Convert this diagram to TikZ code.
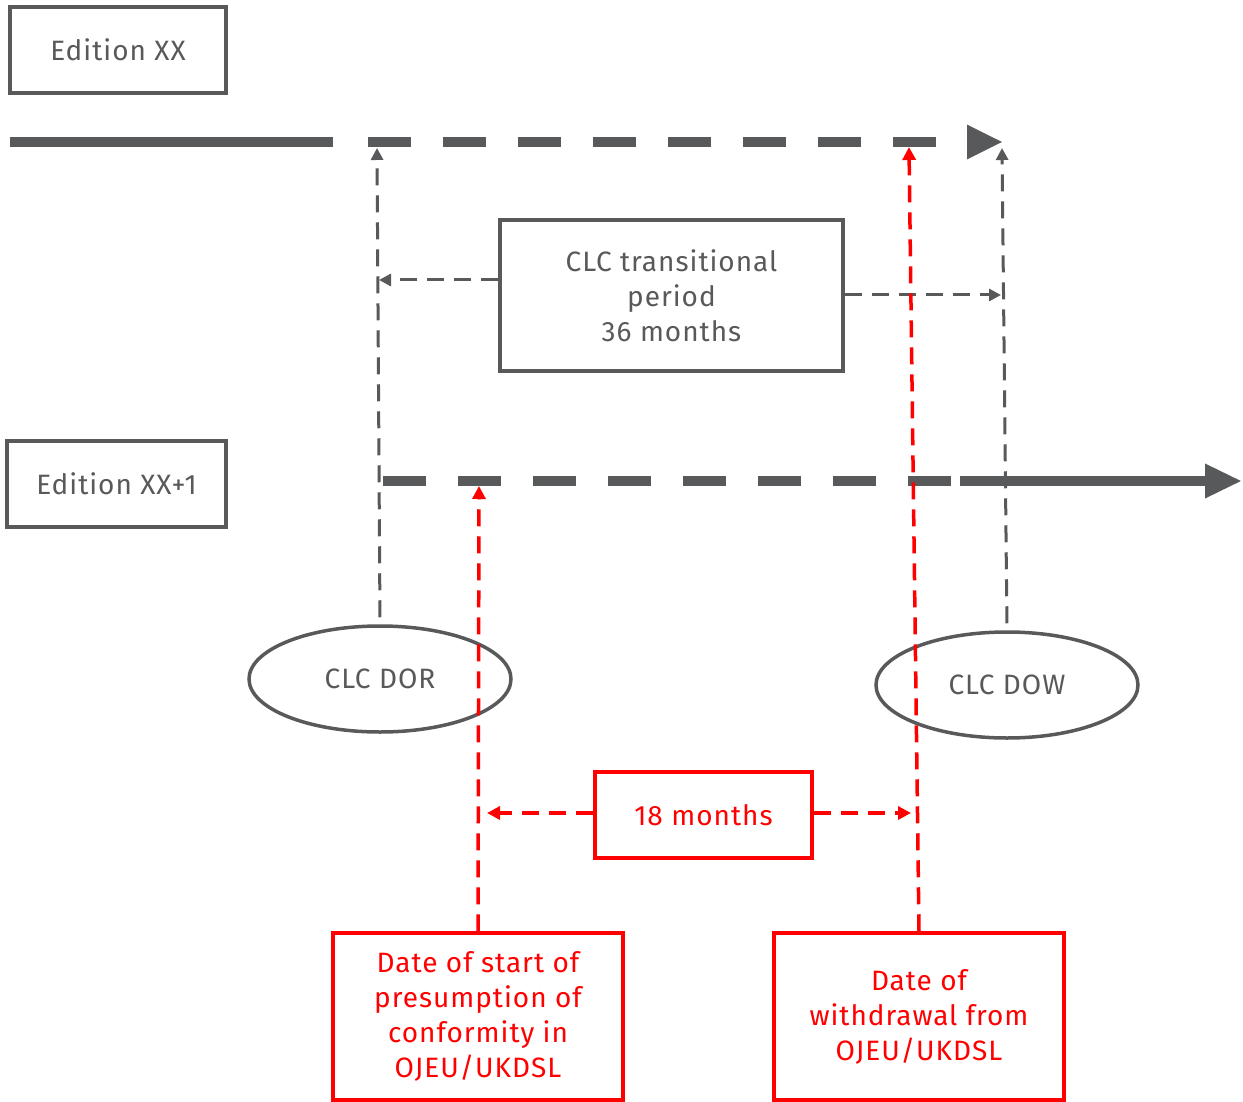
\documentclass[tikz,border=0pt]{standalone}
\usepackage{fontspec}
\setmainfont{Fira Sans}[LetterSpace=3.5]
\usetikzlibrary{arrows.meta,shapes.geometric,positioning}
\definecolor{clcgrey}{RGB}{88,89,91}
\definecolor{clcred}{RGB}{255,0,0}
\tikzset{
  greybox/.style={draw=clcgrey, line width=3.5pt, text=clcgrey, align=center, inner sep=0pt},
  redbox/.style={draw=clcred, line width=3.5pt, text=clcred, align=center, inner sep=0pt},
  dateoval/.style={ellipse, draw=clcgrey, line width=3.5pt, text=clcgrey, minimum width=262, minimum height=106, inner sep=0pt},
  timeline/.style={clcgrey, line width=10pt},
  gaps/.style={dash pattern=on 43pt off 32pt},
  greylink/.style={clcgrey, line width=3pt, dash pattern=on 17pt off 10pt, -{Triangle[length=12pt,width=12pt]}},
  redlink/.style={clcred, line width=3.5pt, dash pattern=on 17pt off 10pt, -{Triangle[length=13pt,width=13pt]}},
}

\begin{document}
\begin{tikzpicture}[x=1pt, y=-1pt, font=\fontsize{28pt}{35pt}\selectfont]
    \useasboundingbox (0,0) rectangle (1243,1102);

            % Draw edition boxes.
            \node[greybox, minimum width=216, minimum height=86] (edxx) at (118,50) {Edition XX};
            \node[greybox, minimum width=219, minimum height=86] (edxxone) at (116.5,484) {Edition XX+1};

            % Draw time lines.
            \coordinate (oldstart) at (10,142);
            \coordinate (oldstop) at (333,142);
            \coordinate (olddash) at (368,142);
            \coordinate (oldend) at (1003,142);
            \draw[timeline] (oldstart) -- (oldstop);
            \draw[timeline, gaps, -{Triangle[length=36pt,width=32pt]}] (olddash) -- (oldend);

            \coordinate (newstart) at (383,481);
            \coordinate (newdash) at (951,481);
            \coordinate (newsolid) at (960,481);
            \coordinate (newend) at (1242,481);
            \draw[timeline, gaps] (newstart) -- (newdash);
            \draw[timeline, -{Triangle[length=37pt,width=32pt]}] (newsolid) -- (newend);

            % Draw grey dates.
            \node[greybox, minimum width=343, minimum height=151] (trans) at (671.5,295.5) {CLC transitional\\period\\36 months};
            \node[dateoval] (dor) at (380,679) {CLC DOR};
            \node[dateoval] (dow) at (1007,685) {CLC DOW};

            \coordinate (dortop) at (377,148);
            \coordinate (dowtop) at (1002,148);
            \coordinate (transleft) at (379,280);
            \coordinate (transright) at (1001,295);
            \draw[greylink, shorten <=7pt] (dor.north) -- (dortop);
            \draw[greylink, shorten <=7pt] (dow.north) -- (dowtop);
            \draw[greylink] (trans.west |- transleft) -- (transleft);
            \draw[greylink] (trans.east |- transright) -- (transright);

            % Draw red dates.
            \node[redbox, minimum width=217, minimum height=86] (months) at (703.5,815) {18 months};
            \node[redbox, minimum width=290, minimum height=167] (startdate) at (478,1016.5) {Date of start of\\presumption of\\conformity in\\OJEU/UKDSL};
            \node[redbox, minimum width=290, minimum height=167] (withdate) at (919,1016.5) {Date of\\withdrawal from\\OJEU/UKDSL};

            \coordinate (starttop) at (479,486);
            \coordinate (withtop) at (909,147);
            \coordinate (monthsleft) at (487,813);
            \coordinate (monthsright) at (911,813);
            \draw[redlink] (startdate.north) -- (starttop);
            \draw[redlink] (withdate.north) -- (withtop);
            \draw[redlink] (months.west |- monthsleft) -- (monthsleft);
            \draw[redlink] (months.east |- monthsright) -- (monthsright);

\end{tikzpicture}
\end{document}
